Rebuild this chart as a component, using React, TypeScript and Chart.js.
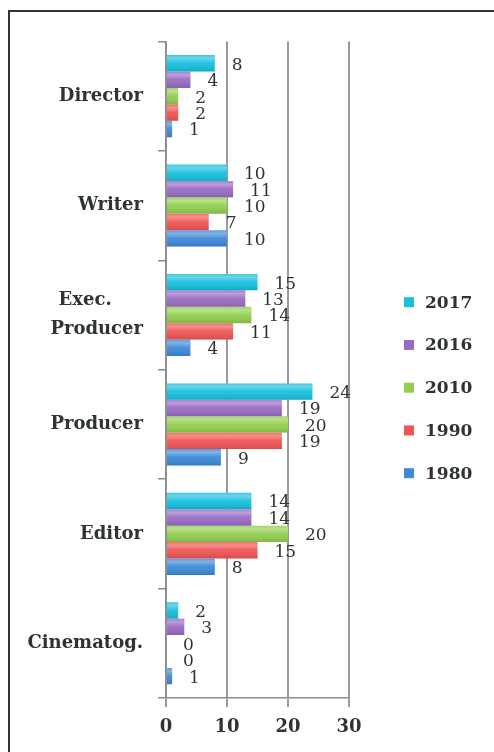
import React, { useEffect, useRef } from "react";
import { Chart, registerables } from "chart.js";

Chart.register(...registerables);

const categories: (string | string[])[] = [
  "Director",
  "Writer",
  ["Exec.     ", "Producer"],
  "Producer",
  "Editor",
  "Cinematog.",
];
const seriesNames = ["2017", "2016", "2010", "1990", "1980"];
const values2017 = [8, 10, 15, 24, 14, 2];
const values2016 = [4, 11, 13, 19, 14, 3];
const values2010 = [2, 10, 14, 20, 20, 0];
const values1990 = [2, 7, 11, 19, 15, 0];
const values1980 = [1, 10, 4, 9, 8, 1];
const xTickValues = [0, 10, 20, 30];

const seriesColors = ["#17c0dd", "#9a6bc4", "#92cf4f", "#f05454", "#3e8ad8"];
const SERIF = "'DejaVu Serif', serif";
const TEXT = "#2e3434";

const glossPlugin = {
  id: "gloss",
  afterDatasetsDraw(chart: any) {
    const ctx = chart.ctx;
    ctx.save();
    chart.data.datasets.forEach((_ds: any, i: number) => {
      const meta = chart.getDatasetMeta(i);
      meta.data.forEach((el: any) => {
        const h = el.height;
        const top = el.y - h / 2;
        const left = el.base;
        const w = el.x - el.base;
        if (w <= 0) return;
        const g = ctx.createLinearGradient(0, top, 0, top + h);
        g.addColorStop(0, "rgba(255,255,255,0.15)");
        g.addColorStop(0.2, "rgba(255,255,255,0.35)");
        g.addColorStop(0.5, "rgba(255,255,255,0.05)");
        g.addColorStop(1, "rgba(0,0,0,0.12)");
        ctx.fillStyle = g;
        ctx.fillRect(left, top, w, h);
      });
    });
    ctx.restore();
  },
};

const dataLabelPlugin = {
  id: "dataLabels",
  afterDatasetsDraw(chart: any) {
    const ctx = chart.ctx;
    ctx.save();
    ctx.font = `17px ${SERIF}`;
    ctx.fillStyle = TEXT;
    ctx.textAlign = "left";
    ctx.textBaseline = "middle";
    chart.data.datasets.forEach((ds: any, i: number) => {
      const meta = chart.getDatasetMeta(i);
      meta.data.forEach((el: any, j: number) => {
        ctx.fillText(String(ds.data[j]), el.x + 17, el.y + 2);
      });
    });
    ctx.restore();
  },
};

const legendPlugin = {
  id: "sideLegend",
  afterDraw(chart: any) {
    const ctx = chart.ctx;
    const area = chart.chartArea;
    const step = 42.75;
    const centerY = (area.top + area.bottom) / 2 + 18;
    const startY = centerY - step * 2;
    const boxX = area.right + 55;
    ctx.save();
    ctx.font = `bold 17px ${SERIF}`;
    ctx.textAlign = "left";
    ctx.textBaseline = "middle";
    chart.data.datasets.forEach((ds: any, i: number) => {
      const y = startY + i * step;
      ctx.fillStyle = ds.backgroundColor;
      ctx.fillRect(boxX, y - 5, 10, 10);
      ctx.fillStyle = TEXT;
      ctx.fillText(ds.label, boxX + 21, y + 1);
    });
    ctx.restore();
  },
};

export default function App() {
  const ref = useRef<HTMLCanvasElement | null>(null);

  useEffect(() => {
    if (!ref.current) return;
    const allValues = [values2017, values2016, values2010, values1990, values1980];
    const chart = new Chart(ref.current, {
      type: "bar",
      data: {
        labels: categories,
        datasets: seriesNames.map((name, i) => ({
          label: name,
          data: allValues[i],
          backgroundColor: seriesColors[i],
          borderWidth: 0,
          barPercentage: 1,
          categoryPercentage: 0.75,
        })),
      },
      options: {
        indexAxis: "y",
        responsive: false,
        animation: false,
        layout: { padding: { top: 28, right: 145, bottom: 0, left: 0 } },
        plugins: {
          legend: { display: false },
          tooltip: { enabled: false },
          title: { display: false },
        },
        scales: {
          x: {
            min: 0,
            max: 30,
            afterBuildTicks: (scale: any) => {
              scale.ticks = xTickValues.map((v) => ({ value: v }));
            },
            afterFit: (scale: any) => {
              scale.height = 54;
            },
            ticks: {
              color: TEXT,
              font: { family: SERIF, size: 18, weight: "bold" },
              padding: 10,
            },
            grid: {
              color: "#9a9a9a",
              lineWidth: 2,
              tickLength: 9,
              drawTicks: true,
            },
            border: { display: true, color: "#8c8c8c", width: 1.5 },
          },
          y: {
            type: "category",
            offset: true,
            afterFit: (scale: any) => {
              scale.width = 156;
            },
            ticks: {
              color: TEXT,
              font: { family: SERIF, size: 18, weight: "bold", lineHeight: 1.6 },
              padding: 15,
              autoSkip: false,
            },
            grid: {
              offset: true,
              drawOnChartArea: false,
              drawTicks: true,
              tickLength: 8,
              color: "#8c8c8c",
              lineWidth: 1.5,
            },
            border: { display: true, color: "#8c8c8c", width: 1.5 },
          },
        },
      } as any,
      plugins: [glossPlugin, dataLabelPlugin, legendPlugin],
    });
    return () => chart.destroy();
  }, []);

  return (
    <div
      style={{
        position: "fixed",
        left: 8,
        top: 10,
        right: 0,
        bottom: 0,
        borderTop: "2px solid #333",
        borderLeft: "2px solid #333",
        borderRight: "none",
        borderBottom: "none",
        overflow: "hidden",
        background: "#fff",
      }}
    >
      <canvas ref={ref} width={484} height={740} style={{ display: "block" }} />
    </div>
  );
}
